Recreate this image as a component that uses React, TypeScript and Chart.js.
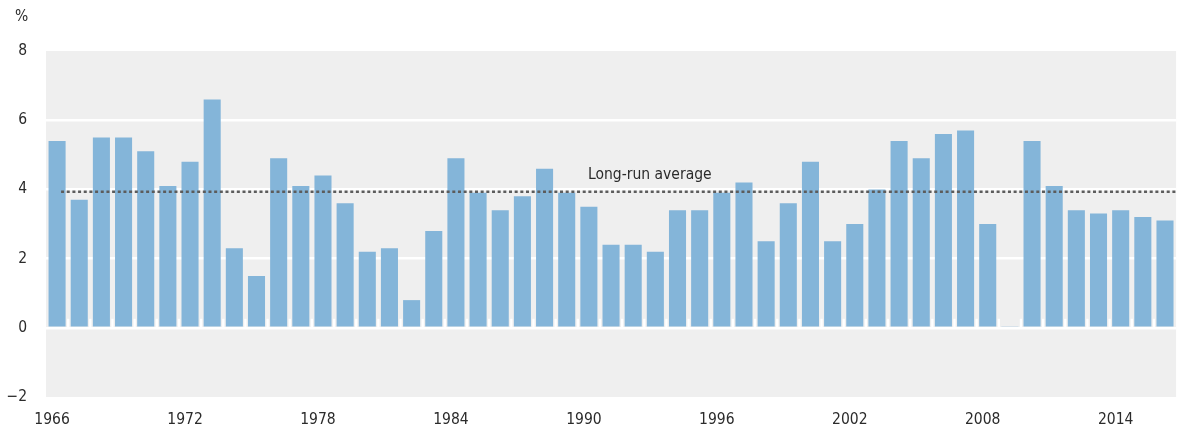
import React, { useEffect, useRef } from "react";
import { Chart, registerables } from "chart.js";

Chart.register(...registerables);

const years: string[] = [];
for (let y = 1966; y <= 2016; y++) years.push(String(y));

const growth = [
  5.4, 3.7, 5.5, 5.5, 5.1, 4.1, 4.8, 6.6, 2.3, 1.5,
  4.9, 4.1, 4.4, 3.6, 2.2, 2.3, 0.8, 2.8, 4.9, 3.9,
  3.4, 3.8, 4.6, 3.9, 3.5, 2.4, 2.4, 2.2, 3.4, 3.4,
  3.9, 4.2, 2.5, 3.6, 4.8, 2.5, 3.0, 4.0, 5.4, 4.9,
  5.6, 5.7, 3.0, 0.03, 5.4, 4.1, 3.4, 3.3, 3.4, 3.2,
  3.1,
];

const longRunAverage = 3.93;
const averageLabel = "Long-run average";
const yTicks = [-2, 0, 2, 4, 6, 8];
const unitLabel = "%";

const FONT = "'DejaVu Sans Condensed', 'Liberation Sans', sans-serif";
const FSIZE = 15.5;
const TEXT = "#2b2b2b";

export default function App() {
  const ref = useRef<HTMLCanvasElement | null>(null);

  useEffect(() => {
    document.body.style.margin = "0";
    const canvas = ref.current;
    if (!canvas) return;

    const decor = {
      id: "decor",
      beforeDraw(chart: any) {
        const { ctx, chartArea } = chart;
        ctx.save();
        ctx.fillStyle = "#efefef";
        ctx.fillRect(chartArea.left, chartArea.top, chartArea.right - chartArea.left, chartArea.bottom - chartArea.top);
        ctx.restore();
      },
      afterDatasetsDraw(chart: any) {
        const { ctx, chartArea, scales } = chart;
        const x = scales.x;
        const y = scales.y;
        const y0 = y.getPixelForValue(0);
        ctx.save();
        // white tick marks between bars at the zero line
        ctx.strokeStyle = "#ffffff";
        ctx.lineWidth = 2.3;
        for (let i = 1; i < years.length; i++) {
          const px = x.getPixelForValue(i - 0.5);
          ctx.beginPath();
          ctx.moveTo(px, y0 - 9);
          ctx.lineTo(px, y0 + 1);
          ctx.stroke();
        }
        // long-run average dotted line
        const ay = y.getPixelForValue(longRunAverage);
        ctx.strokeStyle = "#5c5c5c";
        ctx.lineWidth = 2.6;
        ctx.setLineDash([3, 2.67]);
        ctx.beginPath();
        ctx.moveTo(x.getPixelForValue(0.18), ay);
        ctx.lineTo(chartArea.right, ay);
        ctx.stroke();
        ctx.setLineDash([]);
        ctx.fillStyle = TEXT;
        ctx.font = `${FSIZE}px ${FONT}`;
        ctx.textAlign = "center";
        ctx.textBaseline = "alphabetic";
        ctx.fillText(averageLabel, x.getPixelForValue(26.75), ay - 13);
        // unit label
        ctx.textAlign = "left";
        ctx.textBaseline = "middle";
        ctx.fillText(unitLabel, 15, 17);
        ctx.restore();
      },
    };

    const chart = new Chart(canvas, {
      type: "bar",
      data: {
        labels: years,
        datasets: [
          {
            data: growth,
            backgroundColor: "#84b5d9",
            borderWidth: 0,
            barPercentage: 0.77,
            categoryPercentage: 1,
          },
        ],
      },
      options: {
        animation: false,
        responsive: false,
        maintainAspectRatio: false,
        layout: { padding: { top: 51, right: 1, left: 0, bottom: 0 } },
        plugins: {
          legend: { display: false },
          tooltip: { enabled: false },
        },
        scales: {
          x: {
            grid: { display: false, drawTicks: false },
            border: { display: false },
            afterFit(scale: any) {
              scale.height = 35;
            },
            ticks: {
              autoSkip: false,
              maxRotation: 0,
              padding: 14,
              labelOffset: -5,
              color: TEXT,
              font: { family: FONT, size: FSIZE },
              callback: (_v: any, i: number) => ((Number(years[i]) - 1966) % 6 === 0 ? years[i] : ""),
            },
          },
          y: {
            min: -2,
            max: 8,
            afterBuildTicks(scale: any) {
              scale.ticks = yTicks.map((v) => ({ value: v }));
            },
            afterFit(scale: any) {
              scale.width = 46;
            },
            grid: {
              color: (c: any) => (c.tick && (c.tick.value === 8 || c.tick.value === -2) ? "rgba(0,0,0,0)" : "#ffffff"),
              lineWidth: 2.5,
              drawTicks: false,
            },
            border: { display: false },
            ticks: {
              padding: 19,
              color: TEXT,
              font: { family: FONT, size: FSIZE },
              callback: (v: any) => (Number(v) < 0 ? "\u2212" + Math.abs(Number(v)) : String(v)),
            },
          },
        },
      },
      plugins: [decor],
    });

    return () => chart.destroy();
  }, []);

  return <canvas ref={ref} width={1179} height={432} style={{ display: "block" }} />;
}
